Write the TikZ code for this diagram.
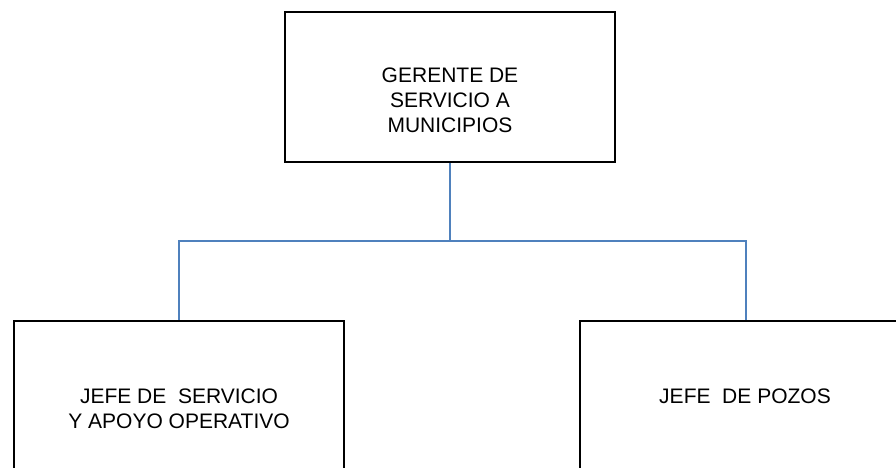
\documentclass[tikz,border=0pt]{standalone}
\usepackage{fontspec}
\setmainfont{Liberation Sans}
\definecolor{linkblue}{RGB}{79,129,189}
\begin{document}
\begin{tikzpicture}[x=1pt,y=-1pt,
  box/.style={draw=black, line width=2pt, fill=none, inner sep=0pt},
  lbl/.style={inner sep=0pt, align=center, font=\fontsize{21}{25}\selectfont},
  conn/.style={draw=linkblue, line width=2pt}]
\useasboundingbox (0,0) rectangle (896,468);
\clip (0,0) rectangle (896,468);
% boxes
\node[box, minimum width=330pt, minimum height=150pt] (g) at (450,87) {};
\node[box, minimum width=330pt, minimum height=200pt] (l) at (179,421) {};
\node[box, minimum width=332pt, minimum height=200pt] (r) at (746,421) {};
% texts
\node[lbl] (gt) at (450,100.5) {GERENTE DE\\SERVICIO A\\MUNICIPIOS};
\node[lbl] (lt) at (179,409) {JEFE DE\ \ SERVICIO\\Y APOYO OPERATIVO};
\node[lbl] (rt) at (745,396) {JEFE\ \ DE POZOS};
% connectors
\coordinate (mid) at (450,241);
\draw[conn] (g.south) -- (mid);
\draw[conn] (mid) -| (l.north);
\draw[conn] (mid) -| (r.north);
\end{tikzpicture}
\end{document}
